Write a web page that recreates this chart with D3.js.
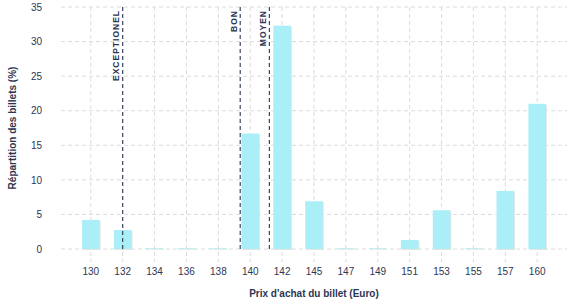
<!DOCTYPE html>
<html><head><meta charset="utf-8">
<script src="https://cdn.jsdelivr.net/npm/d3@7/dist/d3.min.js"></script>
<style>body{margin:0;background:#fff;} text{font-family:"Liberation Sans",Arial,sans-serif;}</style>
</head><body><svg id="c" width="577" height="300"></svg>
<script>
const categories = ["130","132","134","136","138","140","142","145","147","149","151","153","155","157","160"];
const values = [4.2, 2.75, 0.1, 0.1, 0.1, 16.7, 32.3, 6.9, 0.1, 0.1, 1.3, 5.6, 0.1, 8.4, 21.0];
const yTicks = [0, 5, 10, 15, 20, 25, 30, 35];
const thresholdLabels = ["EXCEPTIONEL", "BON", "MOYEN"];
const thresholdValues = [132, 139.37, 141.2];
const xTitle = "Prix d'achat du billet (Euro)";
const yTitle = "Répartition des billets (%)";

(function () {
const svg = d3.select("#c");
const mLeft = 61, mRight = 567, mTop = 7, mBottom = 249;
const navy = "#2c3654";

const x = d3.scaleBand().domain(categories).range([mLeft, mRight]).paddingInner(0.45).paddingOuter(0.66);
const y = d3.scaleLinear().domain([0, 35]).range([mBottom, mTop]);
const cx = c => x(c) + x.bandwidth() / 2;
const nums = categories.map(Number);
const pos = d3.scaleLinear().domain(nums).range(categories.map(cx));

// grid
svg.append("g").selectAll("line").data(yTicks).join("line")
  .attr("x1", mLeft).attr("x2", mRight).attr("y1", d => y(d)).attr("y2", d => y(d))
  .attr("stroke", "#dcdcdc").attr("stroke-dasharray", "4,3");
svg.append("g").selectAll("line").data(categories).join("line")
  .attr("x1", cx).attr("x2", cx).attr("y1", mTop).attr("y2", mBottom + 13)
  .attr("stroke", "#dcdcdc").attr("stroke-dasharray", "4,3");

// bars shadow + bars
const data = categories.map((c, i) => ({c, v: values[i]}));
svg.append("g").selectAll("rect").data(data).join("rect")
  .attr("x", d => x(d.c) + 1).attr("y", d => y(d.v) + 1)
  .attr("width", x.bandwidth()).attr("height", d => mBottom - y(d.v))
  .attr("fill", "#e4e4e4");
svg.append("g").selectAll("rect").data(data).join("rect")
  .attr("x", d => x(d.c)).attr("y", d => y(d.v))
  .attr("width", x.bandwidth()).attr("height", d => mBottom - y(d.v))
  .attr("fill", "#aaeef8");

// thresholds
thresholdValues.forEach((v, i) => {
  const px = pos(v);
  svg.append("line").attr("x1", px).attr("x2", px).attr("y1", mTop).attr("y2", mBottom + 1)
    .attr("stroke", navy).attr("stroke-width", 1.1).attr("stroke-dasharray", "4,3");
  svg.append("text").attr("transform", `translate(${px - 3.5},${mTop + 3}) rotate(-90)`)
    .attr("text-anchor", "end").attr("font-size", 8.5).attr("font-weight", "bold")
    .attr("letter-spacing", "1px").attr("fill", navy).text(thresholdLabels[i]);
});

// axes
const xa = svg.append("g").attr("transform", `translate(0,${mBottom})`)
  .call(d3.axisBottom(x).tickSize(0).tickPadding(19));
xa.select(".domain").remove();
xa.selectAll("text").attr("font-size", 10).attr("fill", navy).attr("font-family", "Liberation Sans, Arial, sans-serif");
const ya = svg.append("g").attr("transform", `translate(${mLeft - 19},0)`)
  .call(d3.axisLeft(y).tickValues(yTicks).tickSize(0).tickPadding(0));
ya.select(".domain").remove();
ya.selectAll("text").attr("font-size", 10).attr("fill", navy).attr("font-family", "Liberation Sans, Arial, sans-serif");

svg.append("text").attr("x", (mLeft + mRight) / 2).attr("y", 297).attr("text-anchor", "middle")
  .attr("font-size", 10).attr("font-weight", "bold").attr("fill", navy).text(xTitle);
svg.append("text").attr("transform", `translate(16,${(mTop + mBottom) / 2}) rotate(-90)`)
  .attr("text-anchor", "middle").attr("font-size", 10).attr("font-weight", "bold").attr("fill", navy).text(yTitle);
})();
</script></body></html>
